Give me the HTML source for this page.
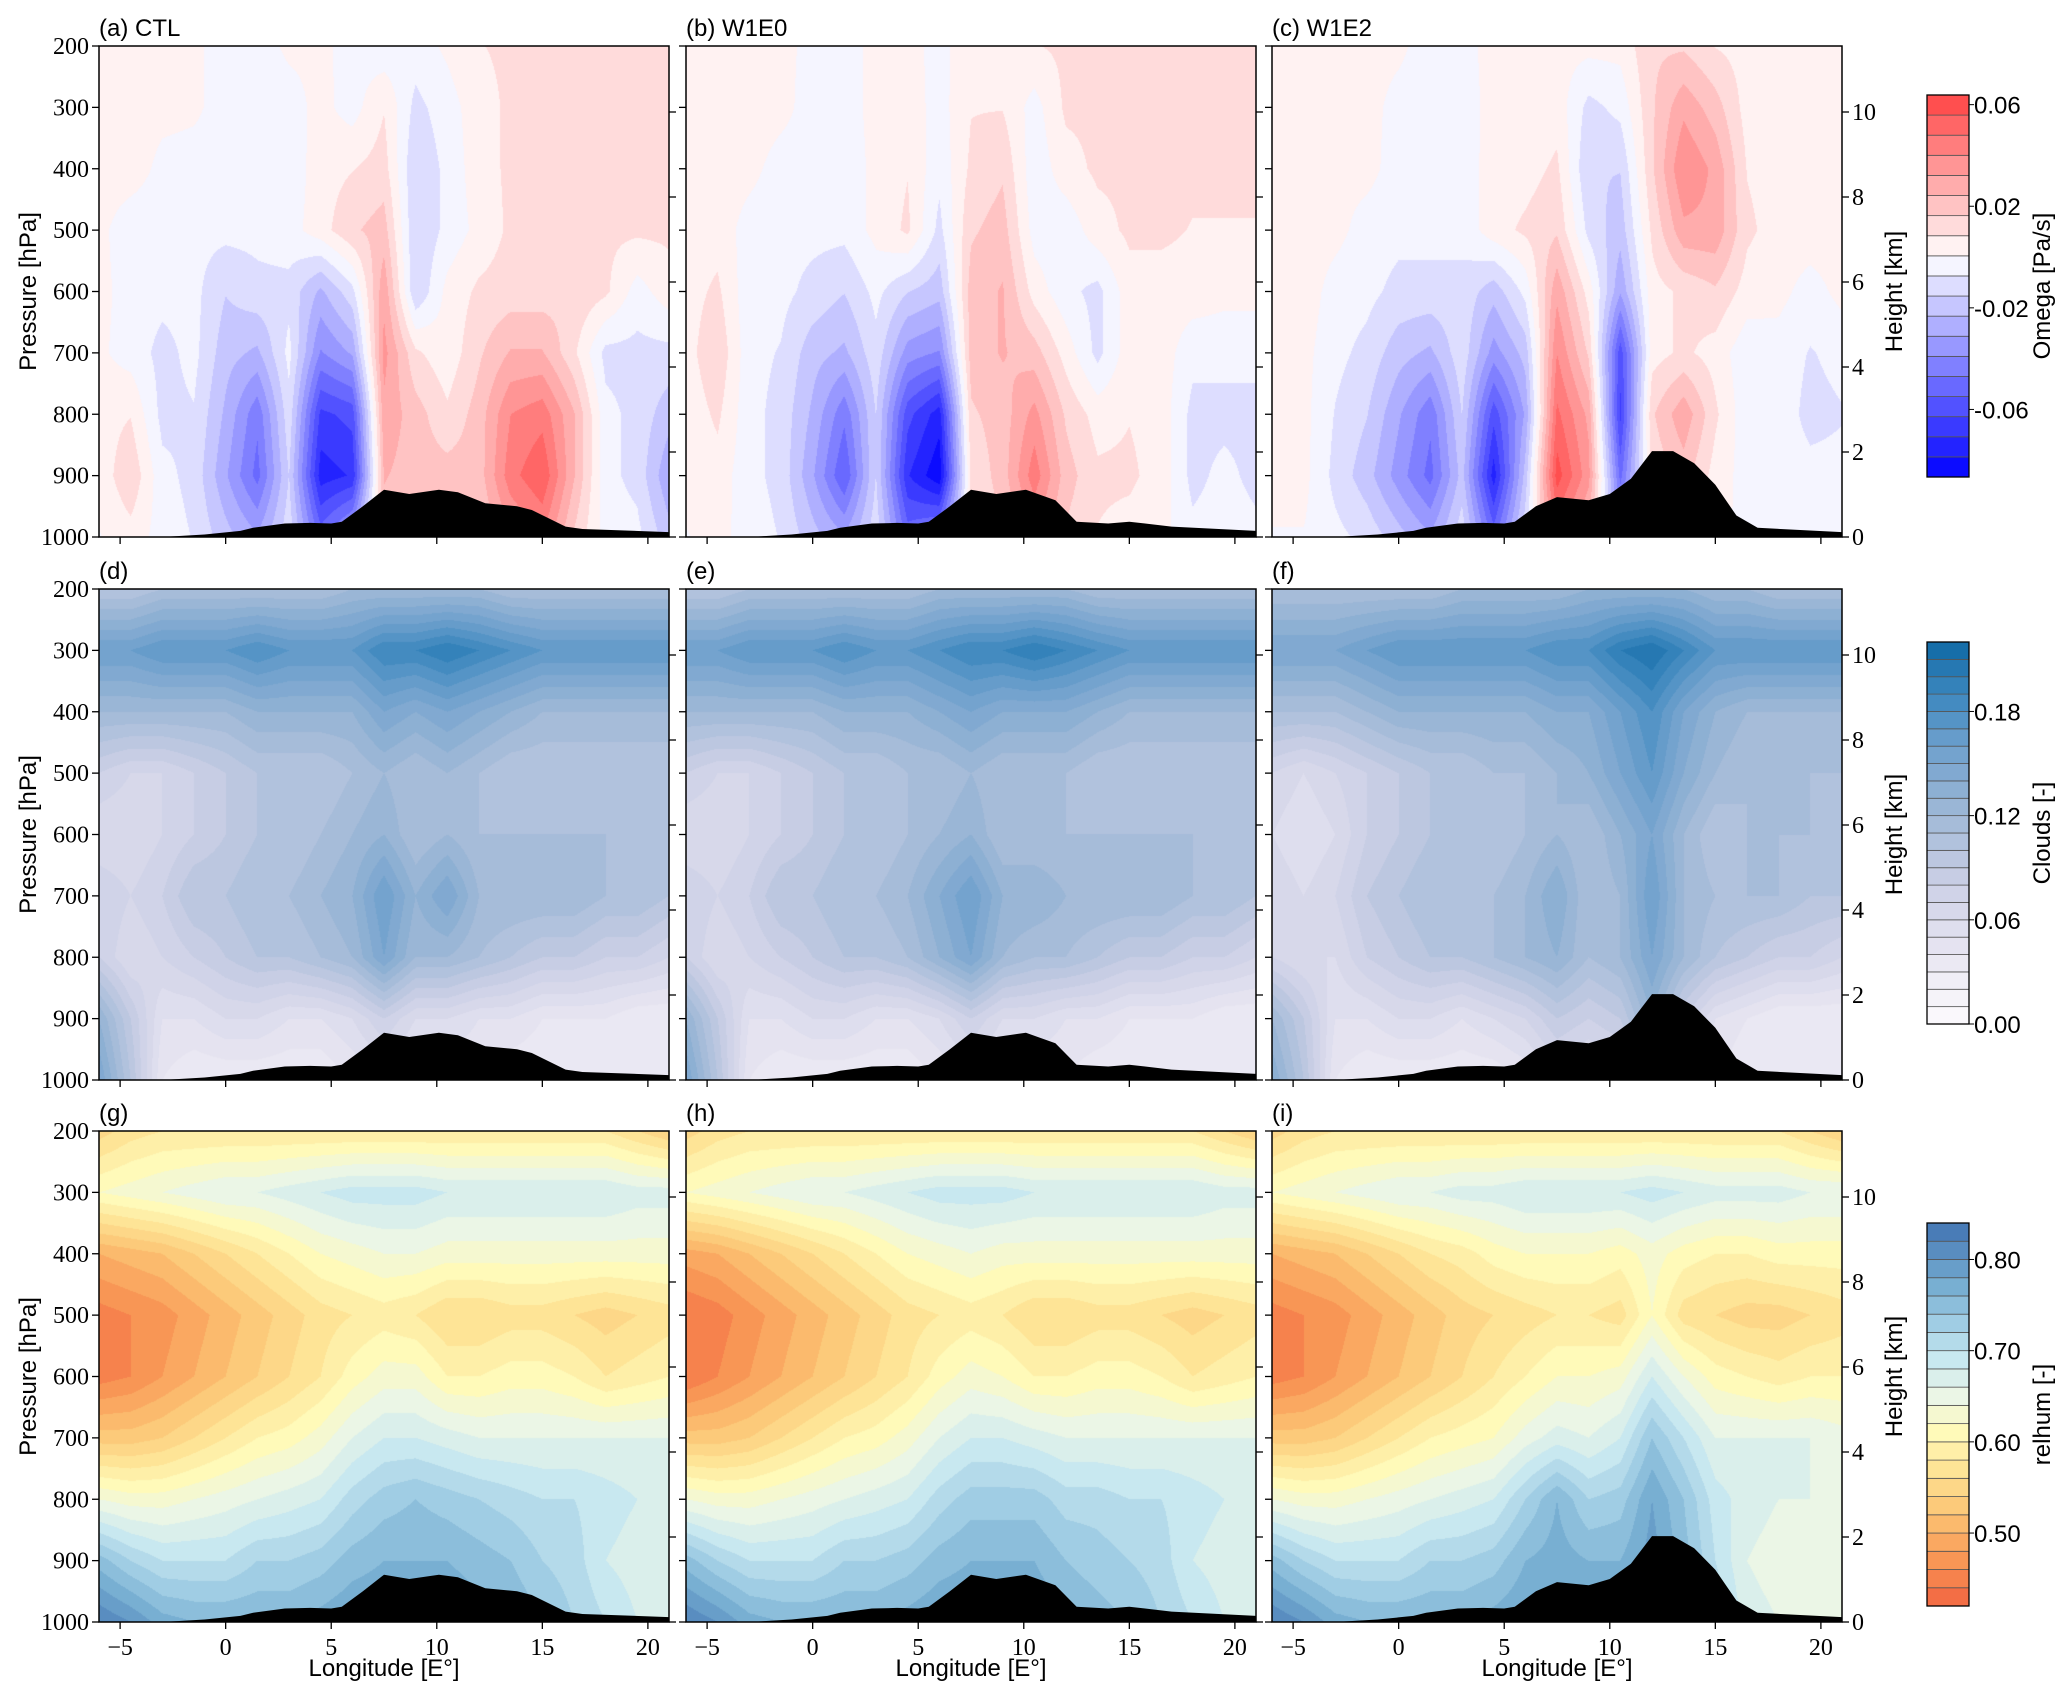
<!DOCTYPE html>
<html><head><meta charset="utf-8">
<style>
html,body{margin:0;padding:0;background:#fff;}
#root{position:relative;width:2067px;height:1699px;overflow:hidden;background:#fff;}
canvas{position:absolute;}
svg{position:absolute;left:0;top:0;}
</style></head>
<body>
<div id="root"></div>
<script>
// ---------- data ----------
const lons=[-6,-4.5,-3,-1.5,0,1.5,3,4.5,6,7.5,9,10.5,12,13.5,15,16.5,18,19.5,21];
const levels=[200,300,400,500,600,700,800,900,1000];
const omegaCTL=[
[.5,.5,.5,.2,-.3,-.3,.2,.2,-.2,-.5,-.3,.2,.8,1,1,1,1,1,1],
[.5,.5,.3,.2,-.3,-.5,-.3,.3,-.3,.8,-1,-.3,.5,1,1,1,1,1,1.5],
[.5,.5,-.2,-.3,-.3,-.5,-.5,.5,.8,1.2,-1.5,-.5,.5,1,1,1,1,1,1.5],
[.3,-.5,-.5,-.5,-.5,-.5,-.3,.5,1.5,2,-1.5,-.5,.3,1,1.2,1.2,1,1,1],
[.3,-.3,-.5,-.5,-1.5,-1,-1,-2.5,-1,3,-1.5,.3,1,1.2,1.2,1.5,1,-.3,.5],
[.2,-.3,-1,-.5,-2,-2.5,-.5,-4,-3,3.5,1,.3,1.5,2.5,2.5,1,-1,-1,-1],
[.5,.8,-1,-.8,-2.5,-4.5,-1,-6.5,-6,3,2,1,2,4,4.5,2.5,-.5,-1,-2],
[.3,1.5,-.5,-1,-3,-5,-1.5,-7.5,-7,2.5,2,2,2,4.5,5.5,2.5,-.5,-1,-3],
[0,.5,-.3,-.8,-2,-3,-1,-5,-3,2,1.5,1.5,1.5,3,4,1.5,-.3,-.5,-2]];
const omegaW1E0=[
[.5,.5,.5,.3,-.2,-.3,.3,.3,-.2,.5,.5,.8,1,1,1,1,1,1,1],
[.5,.5,.5,.3,-.3,-.3,.3,.5,-.3,.8,.8,-.3,1,1,1,1,1,1,1],
[.5,.5,.3,-.3,-.3,-.5,.3,.8,-.5,1,1.5,-.5,.5,1,1,1,1,1,1],
[.5,.5,-.3,-.5,-.5,-.5,.3,1,-1,1.5,2,-.3,-.5,.5,1,1,.8,.8,.8],
[.5,1,-.5,-.5,-1,-1.5,-.5,-1.5,-2,2,2.5,.5,-.5,-1,.5,.5,.5,.3,.3],
[.5,1.5,-.5,-.8,-2,-2.5,-1,-3.5,-4,2,2.5,2,.5,-1,.5,.5,-.5,-.5,-.5],
[.3,1,-.5,-1,-2.5,-4.5,-1.5,-6,-7.5,1.5,2,3.5,1.5,.5,.8,.5,-1,-1,-1],
[.3,.5,-.5,-1,-3,-5.5,-1.5,-7,-8.5,1,2,4.5,2,1,1,.5,-1,-.5,-1],
[0,.3,-.3,-.8,-2,-3,-1,-5,-4,1,1.5,3,1.5,.8,.5,.3,-.5,-.3,-.5]];
const omegaW1E2=[
[.3,.3,.3,.3,.2,-.3,-.2,.3,.3,.3,.3,.3,1.5,1.5,.8,.5,.5,.5,.5],
[.3,.3,.3,.3,-.2,-.3,-.3,.3,.3,.5,-1,-.5,1.5,3,2,.5,.5,.5,.5],
[.3,.3,.3,.3,-.3,-.3,-.5,.5,.5,1,-1.5,-1.5,1.5,4,3,.8,.5,.5,.5],
[.5,.5,.3,-.3,-.5,-.5,-.5,.5,1,1.5,-1,-2,1,3,3,1,.5,.5,.5],
[.5,.5,-.3,-.5,-1,-1,-1,-2,-.5,3,.5,-3,.5,1,1.5,.5,.3,-.3,.3],
[.8,.3,-.5,-1,-2,-2.5,-1,-3.5,-2,4,1.5,-6,.5,1,.5,-.5,-.3,-.8,-.5],
[.5,.3,-.8,-1.5,-3,-4.5,-1.5,-6,-3,5,3,-6.5,1.5,3,1,-.5,-.3,-1,-.8],
[.3,.3,-1,-2,-3.5,-5,-2,-7.5,-2,6,3.5,-5,1,2,.5,-.3,-.3,-.5,-.5],
[0,0,-.5,-1,-2,-3,-1,-5,-1,4,2,-3,.5,1,.3,-.2,-.2,-.3,-.3]];
const cloudCTL=[
[10,10,11,11,11,11,11,11,12,12,12,12,12,11,11,11,11,11,11],
[16,16,17,17,17,18,17,17,17,19,19,20,19,18,17,17,17,17,17],
[12,12,12,12,12,13,13,13,13,15,14,15,14,13,12,12,12,12,12],
[8,7,7,8,9,10,10,10,11,12,11,12,11,10,10,10,10,10,10],
[6,6,7,8,9,10,10,11,12,13,11,12,11,11,11,11,11,10,10],
[8,7,8,10,10,11,11,12,13,16,13,15,12,12,12,12,11,11,10],
[8,6,7,8,9,10,10,11,12,15,12,12,11,10,9,9,8,8,7],
[13,9,5,5,6,6,5,5,6,8,6,6,5,5,4,4,4,3,3],
[15,10,4,3,3,3,3,3,4,5,4,4,4,3,3,3,3,3,3]];
const cloudW1E0=[
[10,10,11,11,11,11,11,11,12,12,12,12,12,11,11,11,11,11,11],
[16,16,17,17,17,18,17,17,18,19,19,20,19,18,17,17,17,17,17],
[12,12,12,12,12,13,13,13,14,15,14,14,14,13,12,12,12,12,12],
[8,7,7,8,9,10,10,11,11,12,11,11,11,10,10,10,10,10,10],
[6,6,7,8,9,10,10,11,12,13,11,11,11,11,11,11,11,10,10],
[8,7,8,10,10,11,11,12,14,16,13,13,12,12,12,12,11,11,10],
[8,6,7,8,9,10,10,11,13,15,12,11,11,10,9,9,8,8,7],
[13,9,5,5,6,6,5,5,6,8,6,6,5,5,4,4,4,3,3],
[15,10,4,3,3,3,3,3,4,5,4,4,4,3,3,3,3,3,3]];
const cloudW1E2=[
[11,11,11,11,11,11,12,12,12,12,13,13,13,13,12,12,11,11,11],
[15,15,15,16,17,17,17,17,17,18,18,20,21,19,17,17,17,17,17],
[11,11,11,12,13,13,13,13,13,14,14,16,18,15,13,12,12,12,12],
[7,6,7,8,9,10,10,11,11,12,13,15,17,14,12,11,11,11,11],
[6,5,6,8,9,10,10,10,11,12,11,13,15,12,10,11,11,11,10],
[7,6,7,9,10,11,11,11,12,14,11,12,16,12,11,11,11,10,10],
[7,6,6,8,9,10,10,11,12,13,11,12,15,12,10,9,8,8,7],
[12,9,5,5,6,6,5,6,7,9,8,9,13,8,5,4,3,3,3],
[14,10,4,3,3,3,3,3,4,6,5,6,12,6,4,3,3,3,3]];
const rhCTL=[
[55,57,58,58,58,58,58,58,58,58,58,58,58,58,58,58,58,56,54],
[62,63,64,65,66,66,67,68,69,69,69,68,68,68,68,68,68,67,67],
[50,51,52,54,56,58,60,62,63,64,64,63,63,63,63,63,63,63,63],
[45,46,47,49,51,53,55,57,58,59,58,56,56,57,57,56,55,56,57],
[45,46,48,50,52,54,56,58,61,63,63,60,60,61,61,60,58,59,60],
[53,53,54,56,58,60,61,63,66,68,68,67,66,66,66,66,66,66,66],
[64,63,63,64,65,66,67,68,71,73,74,73,72,71,70,70,69,68,68],
[75,72,70,70,70,72,72,73,75,76,76,76,75,74,72,71,68,67,66],
[82,80,77,76,76,76,76,77,78,78,78,78,77,76,74,72,70,68,67]];
const rhW1E0=[
[55,57,58,58,58,58,58,58,58,58,58,58,58,58,58,58,58,56,54],
[62,63,64,65,66,66,67,68,69,69,69,68,68,68,68,68,68,67,67],
[49,50,52,54,56,58,60,62,63,64,63,63,63,63,63,63,63,63,63],
[44,45,47,49,51,53,55,57,58,59,58,56,56,57,57,56,55,56,57],
[44,46,48,50,52,54,56,58,61,63,62,60,60,61,61,60,58,59,60],
[53,53,54,56,58,60,61,63,66,68,68,67,66,66,66,66,66,66,66],
[64,63,63,64,65,66,67,68,71,73,73,73,71,71,70,70,69,68,68],
[75,72,70,70,70,72,72,73,75,76,76,76,74,73,72,71,68,67,66],
[82,80,77,76,76,76,76,77,78,78,78,78,76,75,74,72,70,68,67]];
const rhW1E2=[
[55,57,58,58,58,58,58,58,58,58,58,58,58,58,58,58,58,56,54],
[62,63,64,65,66,66,67,67,68,68,68,68,69,68,67,67,67,66,66],
[50,51,52,54,56,58,59,61,62,62,62,61,63,61,60,60,61,61,61],
[45,46,47,49,51,53,55,56,57,58,58,57,62,57,56,55,55,56,57],
[45,46,48,50,52,54,56,58,60,62,62,63,68,64,61,60,59,60,60],
[53,53,54,56,58,60,61,62,65,67,66,68,74,70,66,66,66,66,65],
[64,63,63,64,65,66,67,68,72,76,72,73,78,74,69,67,66,66,66],
[75,72,70,70,70,72,72,73,76,77,76,76,79,75,70,66,65,65,65],
[82,80,77,76,76,76,76,77,78,78,78,78,79,76,72,67,66,65,65]];
const terrLonCTL=[-6,-3,-1,0.7,1.3,2.8,4,5,5.5,6.5,7.5,8.7,10.1,11,12.3,13.8,14.5,16.1,16.9,21];
const terrPCTL=[1000,1000,996,990,985,978,977,978,975,950,923,930,923,927,945,950,956,983,987,992];
const terrLonW1E0=[-6,-3,-1,0.7,1.3,2.8,4,5,5.5,6.5,7.5,8.7,10.1,11.5,12.5,14,15,17,21];
const terrPW1E0=[1000,1000,996,990,985,978,977,978,975,950,923,930,923,940,975,978,975,983,990];
const terrLonW1E2=[-6,-3,-1,0.7,1.3,2.8,4,5,5.5,6.5,7.5,9,10,11,12,13,14,15,16,17,21];
const terrPW1E2=[1000,1000,996,990,985,978,977,978,975,950,935,940,930,905,860,860,880,915,965,985,992];
const xTicks=[-5,0,5,10,15,20];
const pTicks=[200,300,400,500,600,700,800,900,1000];
const hTicks=[0,2,4,6,8,10];
const omegaTicks=[0.06,0.02,-0.02,-0.06];
const cloudTicks=[0.00,0.06,0.12,0.18];
const rhTicks=[0.50,0.60,0.70,0.80];

// ---------- layout ----------
const colX=[99,686,1272], rowY=[46,589,1131], PW=570, PH=491;
const lonMin=-6, lonMax=21, kmPx=42.5;
const root=document.getElementById('root');
const NS='http://www.w3.org/2000/svg';
const svg=document.createElementNS(NS,'svg');
svg.setAttribute('width',2067);svg.setAttribute('height',1699);



function mk(tag,attrs,parent){const e=document.createElementNS(NS,tag);for(const k in attrs)e.setAttribute(k,attrs[k]);(parent||svg).appendChild(e);return e;}
function txt(s,x,y,size,fam,anchor,parent,rot){const t=mk('text',{x:x,y:y,'font-size':size,'font-family':fam,'text-anchor':anchor||'start',fill:'#000'},parent);if(rot)t.setAttribute('transform','rotate(-90 '+x+' '+y+')');t.textContent=s;return t;}
const SERIF='"Liberation Serif", serif', SANS='"Liberation Sans", sans-serif';

// colormaps
function bwr(v){const t=Math.max(-1,Math.min(1,v/0.0866));if(t<0){const c=255*(1+t);return [c,c,255];}const c=255*(1-t);return [255,c,c];}
const cloudStops=[[0,[252,250,253]],[0.04,[232,230,242]],[0.08,[205,208,230]],[0.12,[160,185,215]],[0.16,[110,160,205]],[0.19,[60,135,190]],[0.22,[15,105,165]]];
const rhStops=[[0.42,[242,100,65]],[0.47,[248,150,85]],[0.52,[252,195,115]],[0.57,[254,228,150]],[0.61,[255,250,185]],[0.65,[235,246,230]],[0.69,[200,232,240]],[0.73,[160,205,228]],[0.77,[120,175,210]],[0.84,[65,115,178]]];
function interpStops(st,v){if(v<=st[0][0])return st[0][1];for(let i=1;i<st.length;i++){if(v<=st[i][0]){const a=st[i-1],b=st[i],f=(v-a[0])/(b[0]-a[0]);return a[1].map((c,k)=>c+(b[1][k]-c)*f);}}return st[st.length-1][1];}
const cfg=[
 {vmin:-0.0866,vmax:0.0638,n:19,scale:0.01,col:bwr,ticks:omegaTicks,label:'Omega [Pa/s]',fmt:v=>v.toFixed(2),name:'omega'},
 {vmin:0,vmax:0.22,n:22,scale:0.01,col:v=>interpStops(cloudStops,v),ticks:cloudTicks,label:'Clouds [-]',fmt:v=>v.toFixed(2),name:'clouds'},
 {vmin:0.42,vmax:0.84,n:21,scale:0.01,col:v=>interpStops(rhStops,v),ticks:rhTicks,label:'relhum [-]',fmt:v=>v.toFixed(2),name:'relhum'}];
const fields=[[omegaCTL,omegaW1E0,omegaW1E2],[cloudCTL,cloudW1E0,cloudW1E2],[rhCTL,rhW1E0,rhW1E2]];
const terr=[[terrLonCTL,terrPCTL],[terrLonW1E0,terrPW1E0],[terrLonW1E2,terrPW1E2]];
const titles=[['(a) CTL','(b) W1E0','(c) W1E2'],['(d)','(e)','(f)'],['(g)','(h)','(i)']];

function quant(c,v){let k=Math.floor((v-c.vmin)/((c.vmax-c.vmin)/c.n));k=Math.max(0,Math.min(c.n-1,k));return c.vmin+(k+0.5)*(c.vmax-c.vmin)/c.n;}
function sample(F,lon,p){
 let fi=(lon-lons[0])/(lons[1]-lons[0]);fi=Math.max(0,Math.min(lons.length-1.0001,fi));
 let fj=(p-levels[0])/(levels[1]-levels[0]);fj=Math.max(0,Math.min(levels.length-1.0001,fj));
 const i=Math.floor(fi),j=Math.floor(fj),a=fi-i,b=fj-j;
 return (F[j][i]*(1-a)+F[j][i+1]*a)*(1-b)+(F[j+1][i]*(1-a)+F[j+1][i+1]*a)*b;
}

for(let r=0;r<3;r++){
 const c=cfg[r];
 for(let k=0;k<3;k++){
  const X0=colX[k],Y0=rowY[r];
  const xs=lon=>X0+(lon-lonMin)/(lonMax-lonMin)*PW;
  const ys=p=>Y0+(p-200)/800*PH;
  const cv=document.createElement('canvas');cv.width=PW;cv.height=PH;
  cv.style.left=X0+'px';cv.style.top=Y0+'px';
  
  
  const ctx=cv.getContext('2d');const im=ctx.createImageData(PW,PH);const F=fields[r][k];
  for(let y=0;y<PH;y++){const p=200+(y+0.5)/PH*800;
   for(let x=0;x<PW;x++){const lon=lonMin+(x+0.5)/PW*(lonMax-lonMin);
    const v=sample(F,lon,p)*c.scale;const col=c.col(quant(c,v));const o=(y*PW+x)*4;
    im.data[o]=col[0];im.data[o+1]=col[1];im.data[o+2]=col[2];im.data[o+3]=255;}}
  ctx.putImageData(im,0,0);root.appendChild(cv);
  // terrain
  const [tl,tp]=terr[k];let d='M'+xs(tl[0])+','+ys(1000);
  for(let i=0;i<tl.length;i++)d+=' L'+xs(tl[i]).toFixed(1)+','+ys(tp[i]).toFixed(1);
  d+=' L'+xs(tl[tl.length-1])+','+ys(1000)+' Z';
  const tr=mk('path',{d:d,fill:'#000'});
  
  
  // frame
  const fr=mk('rect',{x:X0,y:Y0,width:PW,height:PH,fill:'none',stroke:'#000','stroke-width':1.5});
  
  
  const tt=txt(titles[r][k],X0,Y0-10,24,SANS);
  
  
  // x ticks
  xTicks.forEach(t=>{mk('line',{x1:xs(t),x2:xs(t),y1:Y0+PH,y2:Y0+PH+7,stroke:'#000','stroke-width':1.3});
   if(r===2){const l=txt((t<0?'\u2212':'')+Math.abs(t),xs(t),Y0+PH+33,24,SERIF,'middle');
    
    }});
  // p ticks
  pTicks.forEach(t=>{mk('line',{x1:X0-7,x2:X0,y1:ys(t),y2:ys(t),stroke:'#000','stroke-width':1.3});
   if(k===0){const l=txt(String(t),X0-10,ys(t)+8,24,SERIF,'end');
    
    }});
  // height ticks
  hTicks.forEach(h=>{const y=Y0+PH-h*kmPx;mk('line',{x1:X0+PW,x2:X0+PW+7,y1:y,y2:y,stroke:'#000','stroke-width':1.3});
   if(k===2){const l=txt(String(h),X0+PW+10,y+8,24,SERIF,'start');
    
    }});
  if(k===0){const l=txt('Pressure [hPa]',36,Y0+PH/2,24,SANS,'middle',null,true);
   
   }
  if(k===2){const l=txt('Height [km]',1902,Y0+PH/2,24,SANS,'middle',null,true);
   
   }
  if(r===2){const l=txt('Longitude [E\u00b0]',X0+PW/2,1676,24,SANS,'middle');
   
   }
 }
 // colorbar
 const cbT=[95,642,1223][r],cbB=[477,1024,1606][r],cbL=1927,cbW=42;
 const g=mk('g',{});
 
 
 const bh=(cbB-cbT)/c.n;
 for(let i=0;i<c.n;i++){const v=c.vmin+(i+0.5)*(c.vmax-c.vmin)/c.n;const col=c.col(v);
  mk('rect',{x:cbL,y:cbB-(i+1)*bh,width:cbW,height:bh,fill:'rgb('+col.map(Math.round).join(',')+')',stroke:'#555','stroke-width':0.8},g);}
 mk('rect',{x:cbL,y:cbT,width:cbW,height:cbB-cbT,fill:'none',stroke:'#000','stroke-width':1.3},g);
 c.ticks.forEach(t=>{const y=cbB-(t-c.vmin)/(c.vmax-c.vmin)*(cbB-cbT);
  mk('line',{x1:cbL+cbW,x2:cbL+cbW+5,y1:y,y2:y,stroke:'#000'},g);
  txt(c.fmt(t),cbL+cbW+5,y+9,24,SANS,'start',g);});
 const lb=txt(c.label,2050,(cbT+cbB)/2,24,SANS,'middle',g,true);
 
 
}
root.appendChild(svg);
</script>
</body></html>
